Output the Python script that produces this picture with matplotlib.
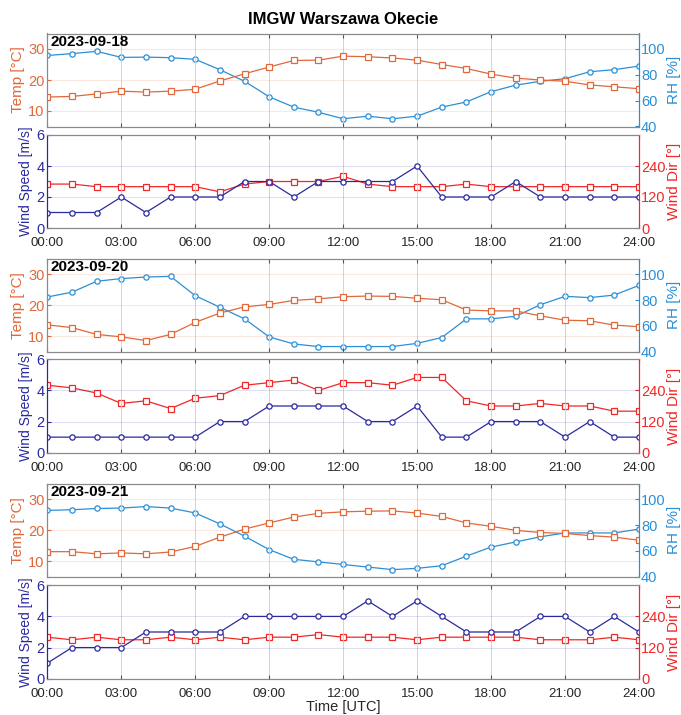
import numpy as np
import matplotlib
matplotlib.use('Agg')
import matplotlib.pyplot as plt

plt.rcParams['font.family'] = ['Liberation Sans', 'DejaVu Sans']

hours = np.arange(0, 25)
tick_hours = np.arange(0, 25, 3)
tick_labels = ['%02d:00' % h for h in tick_hours]
dates = ['2023-09-18', '2023-09-20', '2023-09-21']

# 2023-09-18
temp_18 = [14.5, 14.7, 15.5, 16.4, 16.1, 16.4, 17.0, 19.7, 22.0, 24.2, 26.3, 26.4, 27.7,
           27.5, 27.1, 26.4, 25.0, 23.7, 21.9, 20.6, 20.0, 19.6, 18.4, 17.8, 17.2]
rh_18 = [95, 96.4, 98.2, 93.5, 93.7, 93.3, 92.0, 84, 75, 63, 55, 51, 46,
         48, 46, 48, 55, 59, 67, 72, 75, 77, 82.4, 84, 86.8]
ws_18 = [1, 1, 1, 2, 1, 2, 2, 2, 3, 3, 2, 3, 3, 3, 3, 4, 2, 2, 2, 3, 2, 2, 2, 2, 2]
wd_18 = [170, 170, 160, 160, 160, 160, 160, 140, 170, 180, 180, 180, 200,
         170, 160, 160, 160, 170, 160, 160, 160, 160, 160, 160, 160]

# 2023-09-20
temp_20 = [13.7, 12.8, 10.6, 9.8, 8.6, 10.6, 14.5, 17.5, 19.5, 20.3, 21.6, 22.1, 22.8,
           23.0, 22.9, 22.3, 21.8, 18.5, 18.2, 18.2, 16.6, 15.2, 15.0, 13.6, 13.1]
rh_20 = [82.5, 86.2, 94.7, 96.8, 98.0, 98.5, 83.5, 74.5, 65.5, 51.5, 46, 44, 44,
         44, 44, 46.5, 51, 65.5, 65.5, 67.5, 76.5, 83, 82, 84, 91.5]
ws_20 = [1, 1, 1, 1, 1, 1, 1, 2, 2, 3, 3, 3, 3, 2, 2, 3, 1, 1, 2, 2, 2, 1, 2, 1, 1]
wd_20 = [260, 250, 230, 190, 200, 170, 210, 220, 260, 270, 280, 240, 270,
         270, 260, 290, 290, 200, 180, 180, 190, 180, 180, 160, 160]

# 2023-09-21
temp_21 = [13.1, 13.1, 12.4, 12.7, 12.4, 13.0, 14.8, 17.8, 20.4, 22.4, 24.3, 25.5, 26.0,
           26.2, 26.3, 25.6, 24.5, 22.4, 21.3, 20.0, 19.3, 19.0, 18.3, 17.8, 16.8]
rh_21 = [91.5, 92, 93, 93.3, 94.5, 93.3, 89.5, 81, 71.5, 61, 53.5, 51.5, 49.5,
         47.5, 45.5, 46.5, 48.5, 56, 63, 67, 71, 74, 74, 74, 77]
ws_21 = [1, 2, 2, 2, 3, 3, 3, 3, 4, 4, 4, 4, 4, 5, 4, 5, 4, 3, 3, 3, 4, 4, 3, 4, 3]
wd_21 = [160, 150, 160, 150, 150, 160, 150, 160, 150, 160, 160, 170, 160,
         160, 160, 150, 160, 160, 160, 160, 150, 150, 150, 160, 150]

temps = [temp_18, temp_20, temp_21]
rhs = [rh_18, rh_20, rh_21]
speeds = [ws_18, ws_20, ws_21]
dirs = [wd_18, wd_20, wd_21]

c_temp = '#e0683a'
c_rh = '#2b8fd6'
c_ws = '#2a2aa0'
c_wd = '#f02828'
c_box = '#8a8a8a'

W, H = 681, 715
fig = plt.figure(figsize=(W / 100, H / 100), dpi=100)

# panel edges in pixels (top, bottom)
panels = [(33.5, 126.5, 135, 228), (259, 351.7, 359.3, 452.7), (484, 576.7, 585.3, 678.7)]
x0, x1 = 47.3, 639


def setup(ax, ax2, lcol, rcol, lspine):
    ax.set_xlim(0, 24)
    ax.set_xticks(tick_hours)
    ax.tick_params(axis='x', direction='in', top=True, length=3, color='#555555',
                   labelsize=9.5, labelcolor='#262626', pad=6.5)
    ax.tick_params(axis='y', direction='in', length=3, colors=lcol, labelsize=10.5, pad=2)
    ax2.tick_params(axis='y', direction='in', length=3, colors=rcol, labelsize=10.5, pad=1.5)
    for a in (ax, ax2):
        a.spines['top'].set_color(c_box)
        a.spines['bottom'].set_color(c_box)
        a.spines['left'].set_color(lspine)
        a.spines['right'].set_color(rcol)
    ax.grid(axis='x', color='#cccccc', lw=0.6)
    ax.grid(axis='y', color=lcol, alpha=0.15, lw=0.8)
    ax.set_axisbelow(True)


mk = dict(markersize=3.8, markerfacecolor='white', markeredgewidth=0.9, lw=0.9)

for i in range(3):
    tt, tb, wt, wb = panels[i]
    # temperature / humidity
    ax = fig.add_axes([x0 / W, 1 - tb / H, (x1 - x0) / W, (tb - tt) / H])
    ax2 = ax.twinx()
    ax.plot(hours, temps[i], marker='s', color=c_temp, **mk)
    ax2.plot(hours, rhs[i], marker='o', color=c_rh, **mk)
    ax.set_ylim(5, 35)
    ax.set_yticks([10, 20, 30])
    ax2.set_ylim(40, 112)
    ax2.set_yticks([40, 60, 80, 100])
    setup(ax, ax2, c_temp, c_rh, c_box)
    ax.set_xticklabels([])
    ax.set_ylabel('Temp [°C]', color=c_temp, fontsize=11, labelpad=2)
    ax2.set_ylabel('RH [%]', color=c_rh, fontsize=11, labelpad=1)
    ax.text(0.006, 0.985, dates[i], transform=ax.transAxes, va='top', ha='left',
            fontsize=11, fontweight='bold', color='black')
    ax.set_zorder(ax2.get_zorder() + 1)
    ax.patch.set_visible(False)

    # wind
    bx = fig.add_axes([x0 / W, 1 - wb / H, (x1 - x0) / W, (wb - wt) / H])
    bx2 = bx.twinx()
    bx2.plot(hours, dirs[i], marker='s', color=c_wd, **mk)
    bx.plot(hours, speeds[i], marker='o', color=c_ws, **mk)
    bx.set_ylim(0, 6)
    bx.set_yticks([0, 2, 4, 6])
    bx2.set_ylim(0, 360)
    bx2.set_yticks([0, 120, 240])
    setup(bx, bx2, c_ws, c_wd, c_ws)
    bx.set_xticklabels(tick_labels)
    bx.set_ylabel('Wind Speed [m/s]', color=c_ws, fontsize=10, labelpad=2)
    bx2.set_ylabel('Wind Dir [°]', color=c_wd, fontsize=11, labelpad=1)
    bx.set_zorder(bx2.get_zorder() + 1)
    bx.patch.set_visible(False)
    if i == 2:
        bx.set_xlabel('Time [UTC]', fontsize=10.5, color='#262626', labelpad=0)

fig.text((x0 + x1) / 2 / W, 1 - 20 / H, 'IMGW Warszawa Okecie', ha='center', va='center',
         fontsize=12, fontweight='bold')

fig.savefig('out.png', dpi=100)
